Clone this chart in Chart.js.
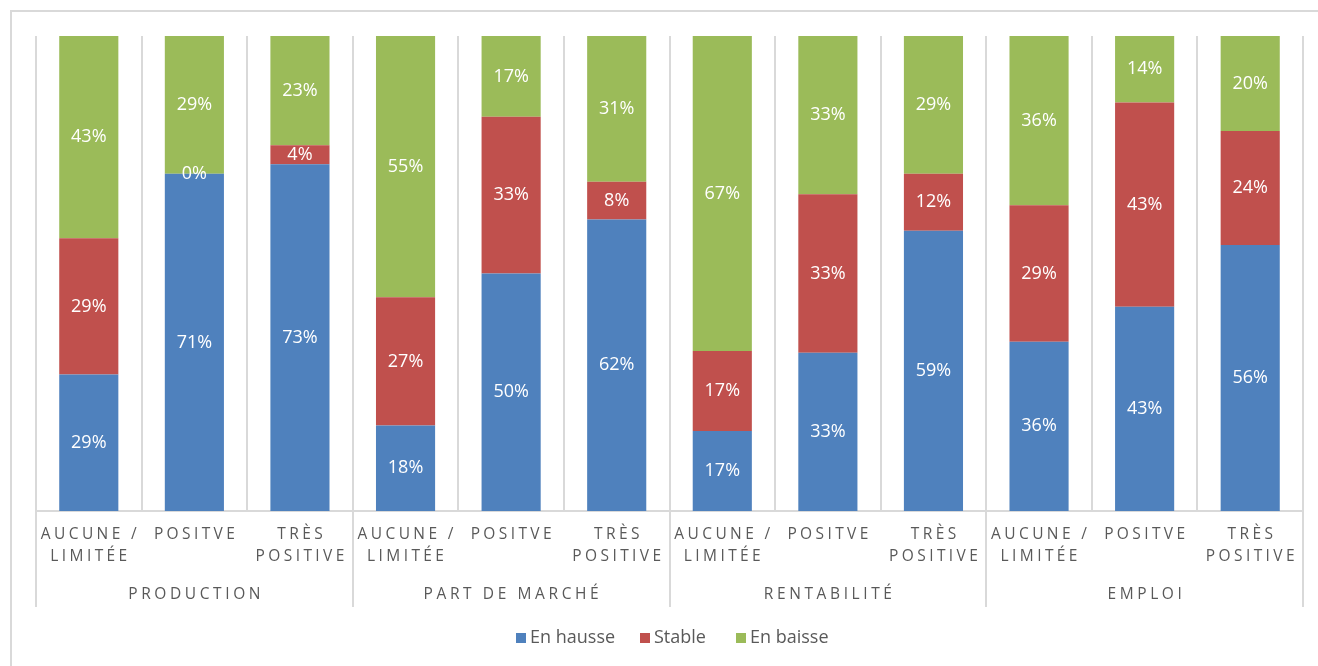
<!DOCTYPE html>
<html>
<head>
<meta charset="utf-8">
<script src="https://cdn.jsdelivr.net/npm/chart.js@4"></script>
<style>
  body { margin: 0; background: #fff; }
  #frame { position: absolute; left: 10px; top: 10px; width: 1320px; height: 670px; border: 2px solid #d9d9d9; border-right: none; border-bottom: none; }
  #wrap { position: absolute; left: 0; top: 0; width: 1318px; height: 666px; }
</style>
</head>
<body>
<div id="frame"></div>
<div id="wrap"><canvas id="chart"></canvas></div>
<script>
// categories (two levels)
let groups = ['PRODUCTION', 'PART DE MARCHÉ', 'RENTABILITÉ', 'EMPLOI'];
let levels = [['AUCUNE /', 'LIMITÉE'], ['POSITVE'], ['TRÈS', 'POSITIVE']];

// percentages per bar, in order of groups x levels
let enHausse = [29, 71, 73, 18, 50, 62, 17, 33, 59, 36, 43, 56];
let stable   = [29, 0, 4, 27, 33, 8, 17, 33, 12, 29, 43, 24];
let enBaisse = [43, 29, 23, 55, 17, 31, 67, 33, 29, 36, 14, 20];

let seriesNames = ['En hausse', 'Stable', 'En baisse'];
let colors = ['#4f81bd', '#c0504d', '#9bbb59'];

let labels = [];
groups.forEach(g => levels.forEach(l => labels.push(l)));

// 100% stacked: share of each bar's total
let series = [enHausse, stable, enBaisse];
let totals = enHausse.map((v, i) => v + stable[i] + enBaisse[i]);
let shares = series.map(s => s.map((v, i) => v / totals[i] * 100));

function spacedText(ctx, text, x, y, spacing) {
    ctx.letterSpacing = spacing + 'px';
    ctx.fillText(text, x + spacing / 2, y);
    ctx.letterSpacing = '0px';
}

let drawExtras = {
    id: 'drawExtras',
    beforeDatasetsDraw(chart) {
        let ctx = chart.ctx;
        let area = chart.chartArea;
        let n = labels.length;
        let step = (area.right - area.left) / n;
        ctx.save();
        ctx.strokeStyle = '#d9d9d9';
        ctx.lineWidth = 2;
        for (let i = 0; i <= n; i++) {
            let px = Math.round(area.left + i * step);
            let bottom = (i % 3 === 0) ? 607 : area.bottom;
            ctx.beginPath();
            ctx.moveTo(px, area.top);
            ctx.lineTo(px, bottom);
            ctx.stroke();
        }
        ctx.beginPath();
        ctx.moveTo(area.left, area.bottom);
        ctx.lineTo(area.right, area.bottom);
        ctx.stroke();
        ctx.restore();
    },
    afterDatasetsDraw(chart) {
        let ctx = chart.ctx;
        let area = chart.chartArea;
        let x = chart.scales.x;
        ctx.save();
        // value labels
        ctx.font = '18px "Open Sans"';
        ctx.fillStyle = '#ffffff';
        ctx.textAlign = 'center';
        ctx.textBaseline = 'middle';
        series.forEach((s, d) => {
            let meta = chart.getDatasetMeta(d);
            meta.data.forEach((bar, i) => {
                let y = (bar.y + bar.base) / 2;
                ctx.fillText(s[i] + '%', bar.x, y);
            });
        });
        // category labels
        ctx.fillStyle = '#595959';
        ctx.font = '15.5px "Open Sans"';
        labels.forEach((lines, i) => {
            let cx = x.getPixelForValue(i);
            lines.forEach((t, j) => spacedText(ctx, t, cx, 535 + j * 22, 3.4));
        });
        // group labels
        let step = (area.right - area.left) / labels.length;
        groups.forEach((g, k) => {
            let cx = area.left + (k * 3 + 1.5) * step;
            spacedText(ctx, g, cx, 595, 3.6);
        });
        // legend
        ctx.font = '18px "Open Sans"';
        ctx.textAlign = 'left';
        let legendX = [516, 640, 736];
        seriesNames.forEach((name, d) => {
            ctx.fillStyle = colors[d];
            ctx.fillRect(legendX[d], 633, 10, 10);
            ctx.fillStyle = '#595959';
            ctx.fillText(name, legendX[d] + 14, 638);
        });
        ctx.restore();
    }
};

let chart = new Chart(document.getElementById('chart').getContext('2d'), {
    type: 'bar',
    data: {
        labels: labels,
        datasets: seriesNames.map((name, d) => ({
            label: name,
            data: shares[d],
            backgroundColor: colors[d],
            borderWidth: 0,
            categoryPercentage: 1,
            barPercentage: 0.56
        }))
    },
    options: {
        responsive: true,
        maintainAspectRatio: false,
        animation: false,
        layout: { padding: { left: 36, right: 15, top: 36, bottom: 155 } },
        plugins: { legend: { display: false }, tooltip: { enabled: false } },
        scales: {
            x: { stacked: true, display: false },
            y: { stacked: true, display: false, min: 0, max: 100 }
        }
    },
    plugins: [drawExtras]
});
</script>
</body>
</html>
